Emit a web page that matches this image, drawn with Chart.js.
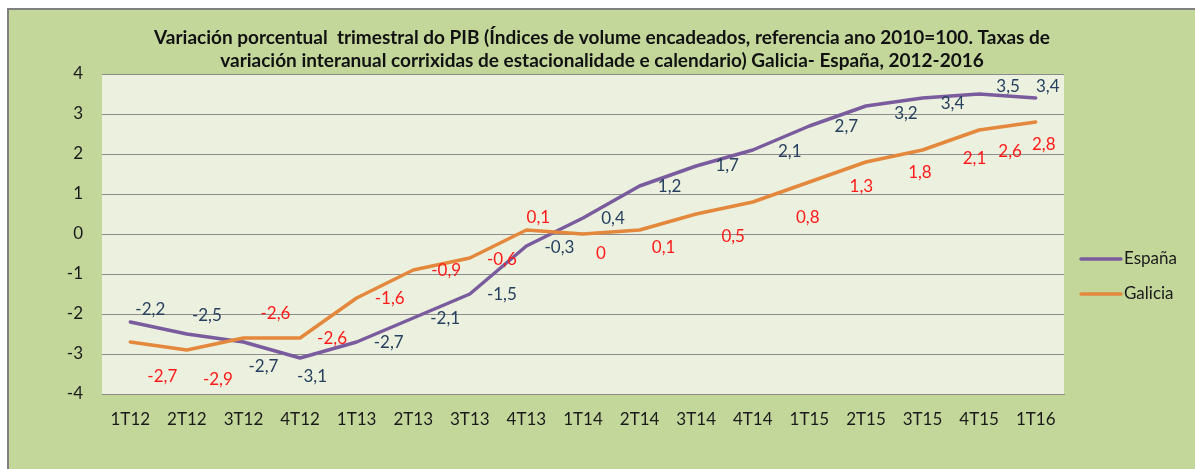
<!DOCTYPE html>
<html>
<head>
<meta charset="utf-8">
<script src="https://cdn.jsdelivr.net/npm/chart.js@4.4.1/dist/chart.umd.min.js"></script>
<style>
  html, body { margin: 0; padding: 0; background: #fff; overflow: hidden; }
  #frame {
    position: absolute; left: 7px; top: 8px;
    width: 1186px; height: 459px;
    border-top: 2px solid #808080; border-left: 2px solid #808080;
    background: #C4D79B;
  }
  #chart { display: block; }
</style>
</head>
<body>
<div id="frame"><canvas id="chart" width="1186" height="459"></canvas></div>
<script>
// quarters and values
const quarters = ['1T12', '2T12', '3T12', '4T12', '1T13', '2T13', '3T13', '4T13', '1T14',
    '2T14', '3T14', '4T14', '1T15', '2T15', '3T15', '4T15', '1T16'];
const espana = [-2.2, -2.5, -2.7, -3.1, -2.7, -2.1, -1.5, -0.3, 0.4, 1.2, 1.7, 2.1, 2.7, 3.2, 3.4, 3.5, 3.4];
const galicia = [-2.7, -2.9, -2.6, -2.6, -1.6, -0.9, -0.6, 0.1, 0, 0.1, 0.5, 0.8, 1.3, 1.8, 2.1, 2.6, 2.8];
const yTicks = [-4, -3, -2, -1, 0, 1, 2, 3, 4];

const titleLines = [
    'Variación porcentual  trimestral do PIB (Índices de volume encadeados, referencia ano 2010=100. Taxas de',
    'variación interanual corrixidas de estacionalidade e calendario) Galicia- España, 2012-2016'
];

// where the data labels sit relative to their point (Excel had them dragged around)
const espanaLabelShift = [[20, -12], [20, -18], [20, 25], [12, 19], [32, 1], [32, 1], [32, 1], [33, 2], [30, 1],
    [30, 1], [31, 0], [37, 2], [37, 1], [40, 8], [30, 6], [29, -7], [12, -11]];
const galiciaLabelShift = [[32, 35], [31, 30], [32, -24], [32, 1], [33, 1], [33, 1], [32, 2], [12, -12], [18, 20],
    [24, 18], [37, 23], [55, 16], [52, 5], [54, 11], [52, 9], [31, 22], [8, 23]];

const FONT = 'Lato, "Open Sans", sans-serif';

const plotBg = {
    id: 'plotBg',
    beforeDraw(chart) {
        const { ctx, chartArea: a } = chart;
        ctx.save();
        ctx.fillStyle = '#EBF1DE';
        ctx.fillRect(a.left, a.top, a.right - a.left, a.bottom - a.top);
        ctx.restore();
    }
};

const valueLabels = {
    id: 'valueLabels',
    afterDatasetsDraw(chart) {
        const ctx = chart.ctx;
        ctx.save();
        ctx.font = '17px ' + FONT;
        ctx.textAlign = 'center';
        ctx.textBaseline = 'middle';
        chart.data.datasets.forEach((ds, i) => {
            const meta = chart.getDatasetMeta(i);
            ctx.fillStyle = ds.labelColor;
            meta.data.forEach((pt, j) => {
                const s = ds.labelShift[j];
                ctx.fillText(String(ds.data[j]).replace('.', ','), pt.x + s[0], pt.y + s[1]);
            });
        });
        ctx.restore();
    }
};

const sideLegend = {
    id: 'sideLegend',
    afterDraw(chart) {
        const { ctx, chartArea: a } = chart;
        ctx.save();
        ctx.font = '17px ' + FONT;
        ctx.textBaseline = 'middle';
        chart.data.datasets.forEach((ds, k) => {
            const y = a.top + 185 + k * 35;
            ctx.strokeStyle = ds.borderColor;
            ctx.lineWidth = 3.5;
            ctx.lineCap = 'round';
            ctx.beginPath();
            ctx.moveTo(a.right + 17, y);
            ctx.lineTo(a.right + 57, y);
            ctx.stroke();
            ctx.fillStyle = '#1a1a1a';
            ctx.fillText(ds.label, a.right + 60, y);
        });
        ctx.restore();
    }
};

new Chart(document.getElementById('chart'), {
    type: 'line',
    data: {
        labels: quarters,
        datasets: [
            {
                label: 'España',
                data: espana,
                borderColor: '#7A5C9E',
                labelColor: '#27405F',
                labelShift: espanaLabelShift,
                order: 1
            },
            {
                label: 'Galicia',
                data: galicia,
                borderColor: '#E3883C',
                labelColor: '#FF1A1A',
                labelShift: galiciaLabelShift,
                order: 0
            }
        ]
    },
    options: {
        responsive: false,
        animation: false,
        events: [],
        layout: { padding: 0 },
        elements: {
            line: { borderWidth: 3.5, tension: 0, borderCapStyle: 'round', borderJoinStyle: 'round' },
            point: { radius: 0 }
        },
        plugins: {
            legend: { display: false },
            tooltip: { enabled: false },
            title: {
                display: true,
                text: titleLines,
                color: '#111',
                font: { family: FONT, size: 19, weight: 'bold', lineHeight: '23px' },
                padding: { top: 16, bottom: 2 }
            }
        },
        scales: {
            x: {
                offset: true,
                grid: { display: false, drawTicks: false },
                border: { display: true, color: '#8c8c8c', width: 1 },
                ticks: { color: '#1a1a1a', padding: 15, maxRotation: 0, autoSkip: false,
                    font: { family: FONT, size: 17 } },
                afterFit(scale) { scale.height = 75; }
            },
            y: {
                min: -4,
                max: 4,
                afterBuildTicks(scale) { scale.ticks = yTicks.map(v => ({ value: v })); },
                grid: { color: '#8c8c8c', lineWidth: 1, drawTicks: false },
                border: { display: false },
                ticks: { color: '#1a1a1a', padding: 19, font: { family: FONT, size: 17 } },
                afterFit(scale) { scale.width = 93; }
            },
            // empty right axis only reserves the room where the legend sits
            legendRoom: {
                position: 'right',
                min: -4,
                max: 4,
                grid: { display: false, drawTicks: false },
                border: { display: false },
                ticks: { display: false },
                afterFit(scale) { scale.width = 131; }
            }
        }
    },
    plugins: [plotBg, valueLabels, sideLegend]
});
</script>
</body>
</html>
